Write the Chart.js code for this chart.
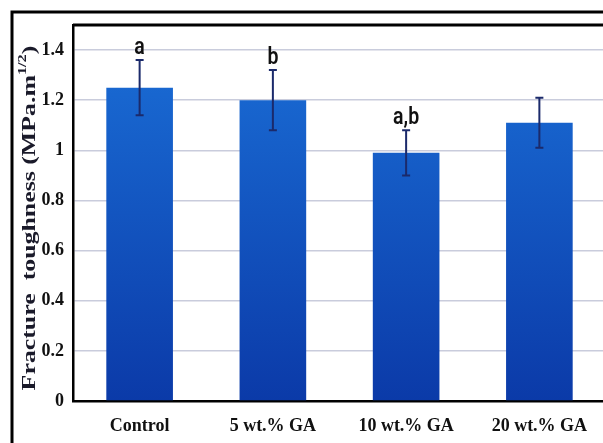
<!DOCTYPE html>
<html>
<head>
<meta charset="utf-8">
<script src="https://cdn.jsdelivr.net/npm/chart.js@4"></script>
<style>
  html, body { margin: 0; padding: 0; background: #fff; overflow: hidden; }
  canvas { display: block; }
</style>
</head>
<body>
<canvas id="myChart" width="620" height="460" style="width:620px;height:460px"></canvas>
<script>
const ctx = document.getElementById('myChart');
const groups = ['Control', '5 wt.% GA', '10 wt.% GA', '20 wt.% GA'];
const toughness = [1.25, 1.20, 0.99, 1.11];
const errors = [0.11, 0.12, 0.09, 0.10];
const letters = ['a', 'b', 'a,b', ''];
const yTicks = [0, 0.2, 0.4, 0.6, 0.8, 1, 1.2, 1.4];

// error bars + significance letters + frames + axis title
const extras = {
    id: 'extras',
    afterDatasetsDraw(chart) {
        const c = chart.ctx;
        const x = chart.scales.x, y = chart.scales.y;
        c.save();
        c.strokeStyle = '#1b2a6b';
        c.lineWidth = 2;
        toughness.forEach((v, i) => {
            const px = x.getPixelForValue(i);
            const top = y.getPixelForValue(v + errors[i]);
            const bot = y.getPixelForValue(v - errors[i]);
            c.beginPath();
            c.moveTo(px, top); c.lineTo(px, bot);
            c.moveTo(px - 4, top); c.lineTo(px + 4, top);
            c.moveTo(px - 4, bot); c.lineTo(px + 4, bot);
            c.stroke();
            if (letters[i]) {
                c.save();
                c.fillStyle = '#111';
                c.font = '600 23px "Liberation Sans Narrow", Roboto, sans-serif';
                c.textAlign = 'center';
                c.textBaseline = 'alphabetic';
                c.translate(px, top - 6);
                c.scale(0.85, 1);
                c.fillText(letters[i], 0, 0);
                c.restore();
            }
        });
        // frames
        const a = chart.chartArea;
        c.strokeStyle = '#000';
        c.lineWidth = 3;
        c.beginPath();
        c.moveTo(a.left, a.top); c.lineTo(chart.width, a.top);
        c.moveTo(12, chart.height); c.lineTo(12, 12); c.lineTo(chart.width, 12);
        c.stroke();
        // y axis title with superscript
        c.fillStyle = '#1a1a2a';
        c.translate(30, (a.top + a.bottom) / 2 + 5);
        c.rotate(-Math.PI / 2);
        c.scale(1.36, 1);
        c.textBaseline = 'middle';
        c.textAlign = 'left';
        const main = 'Fracture  toughness (MPa.m';
        const sup = '1/2';
        const big = 'bold 19px "Liberation Serif", serif';
        const small = 'bold 12px "Liberation Serif", serif';
        c.font = big;
        const w1 = c.measureText(main).width;
        c.font = small;
        const w2 = c.measureText(sup).width;
        c.font = big;
        const w3 = c.measureText(')').width;
        const start = -(w1 + w2 + w3) / 2;
        c.fillText(main, start, 0);
        c.font = small;
        c.fillText(sup, start + w1, -7);
        c.font = big;
        c.fillText(')', start + w1 + w2, 0);
        c.restore();
    }
};

new Chart(ctx, {
    type: 'bar',
    data: {
        labels: groups,
        datasets: [{
            label: 'Fracture toughness',
            data: toughness,
            backgroundColor(context) {
                const a = context.chart.chartArea;
                if (!a) return '#1560c8';
                const g = context.chart.ctx.createLinearGradient(0, a.top, 0, a.bottom);
                g.addColorStop(0, '#1b70d8');
                g.addColorStop(1, '#0b3aa8');
                return g;
            },
            borderWidth: 0,
            barPercentage: 0.5,
            categoryPercentage: 1
        }]
    },
    options: {
        responsive: false,
        animation: false,
        layout: { padding: { left: 0, top: 25, right: 14, bottom: 0 } },
        plugins: { legend: { display: false }, tooltip: { enabled: false } },
        scales: {
            x: {
                grid: { display: false, drawTicks: false },
                border: { color: '#000', width: 2.5 },
                ticks: {
                    color: '#111',
                    padding: 15,
                    font: { family: '"Liberation Serif", serif', size: 18, weight: 'bold' }
                },
                afterFit(s) { s.height = 59; }
            },
            y: {
                min: 0,
                max: 1.5,
                afterBuildTicks(s) { s.ticks = yTicks.map(v => ({ value: v })); },
                grid: { color: '#c9ccdc', lineWidth: 1.5, drawTicks: false },
                border: { color: '#000', width: 2.5 },
                ticks: {
                    color: '#111',
                    padding: 9,
                    font: { family: '"Liberation Serif", serif', size: 18, weight: 'bold' },
                    callback: v => String(v)
                },
                afterFit(s) { s.width = 73; }
            }
        }
    },
    plugins: [extras]
});
</script>
</body>
</html>
